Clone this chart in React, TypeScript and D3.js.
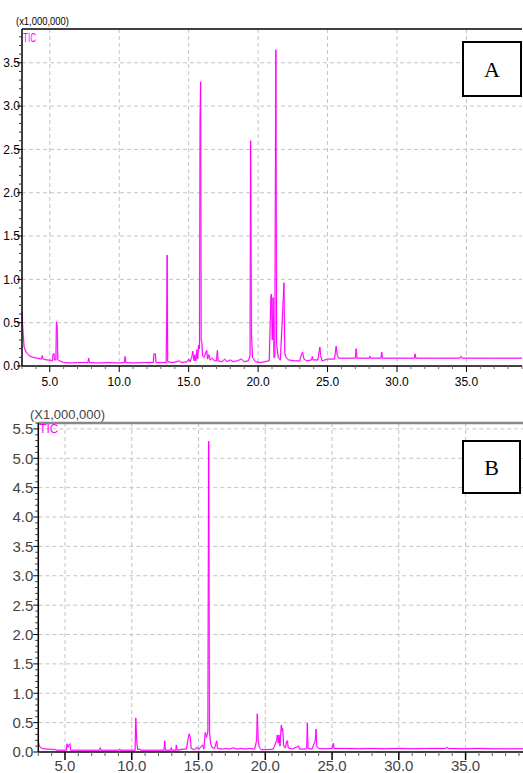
import React from 'react';
import * as d3 from 'd3';

// TIC chromatogram A: [retention time (min), intensity (x1,000,000)]
const ticA: [number, number][] = [
  [3.0, 0.62], [3.05, 0.45], [3.15, 0.22], [3.3, 0.16], [3.5, 0.12], [3.8, 0.1], [4.1, 0.09], [4.4, 0.08],
  [4.46, 0.12], [4.52, 0.08], [4.8, 0.07], [5.1, 0.065], [5.2, 0.06], [5.24, 0.14], [5.3, 0.14], [5.34, 0.07],
  [5.44, 0.07], [5.48, 0.51], [5.53, 0.46], [5.58, 0.07], [5.7, 0.06], [6.0, 0.04], [6.5, 0.035], [7.0, 0.04],
  [7.5, 0.04], [7.75, 0.04], [7.8, 0.09], [7.85, 0.04], [8.5, 0.035], [9.2, 0.04], [10.0, 0.035], [10.38, 0.04],
  [10.42, 0.11], [10.47, 0.04], [11.0, 0.035], [11.8, 0.04], [12.45, 0.04], [12.5, 0.14], [12.6, 0.14], [12.65, 0.04],
  [13.0, 0.04], [13.38, 0.04], [13.42, 0.54], [13.45, 1.28], [13.49, 0.05], [13.8, 0.04], [14.2, 0.05], [14.3, 0.06],
  [14.5, 0.04], [14.9, 0.05], [15.0, 0.08], [15.1, 0.05], [15.22, 0.1], [15.3, 0.17], [15.38, 0.06], [15.46, 0.13],
  [15.52, 0.06], [15.6, 0.19], [15.65, 0.08], [15.72, 0.24], [15.78, 0.2], [15.82, 2.82], [15.86, 3.28], [15.9, 0.3],
  [15.95, 0.27], [16.0, 0.12], [16.1, 0.1], [16.3, 0.18], [16.36, 0.08], [16.45, 0.13], [16.55, 0.07], [16.7, 0.09],
  [16.85, 0.06], [17.0, 0.06], [17.07, 0.18], [17.12, 0.06], [17.4, 0.05], [17.6, 0.08], [17.75, 0.05], [18.0, 0.07],
  [18.2, 0.05], [18.5, 0.06], [18.8, 0.08], [19.0, 0.05], [19.3, 0.06], [19.42, 0.12], [19.46, 2.6], [19.52, 0.37],
  [19.6, 0.1], [19.8, 0.05], [20.2, 0.04], [20.5, 0.05], [20.8, 0.06], [20.92, 0.8], [20.96, 0.83], [21.02, 0.3],
  [21.08, 0.79], [21.14, 0.1], [21.2, 0.1], [21.28, 3.65], [21.33, 0.25], [21.45, 0.1], [21.6, 0.07], [21.82, 0.8],
  [21.86, 0.96], [21.92, 0.15], [22.0, 0.1], [22.2, 0.07], [22.6, 0.06], [23.0, 0.06], [23.1, 0.12], [23.2, 0.16],
  [23.3, 0.08], [23.5, 0.06], [23.85, 0.07], [23.9, 0.11], [23.95, 0.07], [24.3, 0.07], [24.45, 0.22], [24.5, 0.12],
  [24.6, 0.06], [25.0, 0.08], [25.5, 0.08], [25.62, 0.23], [25.7, 0.12], [25.8, 0.09], [26.5, 0.09], [27.0, 0.09],
  [27.06, 0.2], [27.12, 0.09], [28.0, 0.09], [28.05, 0.11], [28.1, 0.09], [28.85, 0.09], [28.9, 0.16], [28.96, 0.09],
  [30.0, 0.09], [31.25, 0.09], [31.3, 0.14], [31.36, 0.09], [33.0, 0.09], [34.5, 0.09], [34.6, 0.11], [34.7, 0.09],
  [37.0, 0.09], [39.0, 0.09],
];

// TIC chromatogram B
const ticB: [number, number][] = [
  [3.0, 0.18], [3.05, 0.12], [3.15, 0.08], [3.3, 0.06], [3.6, 0.05], [4.0, 0.045], [4.3, 0.04], [4.4, 0.03],
  [5.1, 0.03], [5.15, 0.14], [5.22, 0.08], [5.3, 0.12], [5.37, 0.14], [5.42, 0.03], [6.0, 0.03], [7.0, 0.03],
  [7.6, 0.03], [7.64, 0.07], [7.7, 0.03], [8.5, 0.03], [9.05, 0.03], [9.1, 0.05], [9.15, 0.03], [10.25, 0.03],
  [10.3, 0.58], [10.38, 0.15], [10.45, 0.04], [10.6, 0.05], [10.65, 0.03], [11.5, 0.03], [12.42, 0.03], [12.47, 0.19],
  [12.52, 0.03], [12.9, 0.03], [12.96, 0.07], [13.0, 0.03], [13.3, 0.03], [13.34, 0.12], [13.38, 0.03], [13.9, 0.05],
  [14.1, 0.05], [14.2, 0.2], [14.3, 0.31], [14.38, 0.25], [14.45, 0.06], [14.7, 0.04], [14.9, 0.08], [15.0, 0.04],
  [15.3, 0.12], [15.4, 0.05], [15.5, 0.33], [15.6, 0.25], [15.7, 0.35], [15.76, 5.29], [15.82, 0.35], [15.9, 0.15],
  [16.0, 0.08], [16.2, 0.06], [16.36, 0.19], [16.42, 0.06], [16.8, 0.05], [17.0, 0.06], [17.3, 0.05], [17.6, 0.07],
  [17.9, 0.05], [18.2, 0.06], [18.5, 0.05], [18.8, 0.06], [19.2, 0.05], [19.35, 0.2], [19.4, 0.65], [19.47, 0.2],
  [19.55, 0.08], [19.7, 0.04], [20.2, 0.04], [20.6, 0.05], [20.85, 0.2], [20.9, 0.29], [20.97, 0.15], [21.03, 0.29],
  [21.1, 0.1], [21.2, 0.46], [21.26, 0.35], [21.3, 0.4], [21.38, 0.1], [21.5, 0.07], [21.6, 0.18], [21.65, 0.19],
  [21.72, 0.07], [22.0, 0.05], [22.5, 0.1], [22.55, 0.05], [23.0, 0.05], [23.1, 0.06], [23.15, 0.49], [23.2, 0.06],
  [23.5, 0.05], [23.75, 0.2], [23.8, 0.39], [23.85, 0.1], [24.0, 0.06], [24.5, 0.055], [25.0, 0.06], [25.1, 0.15],
  [25.15, 0.06], [26.0, 0.06], [27.0, 0.055], [28.0, 0.06], [29.0, 0.055], [30.0, 0.06], [31.0, 0.055], [32.0, 0.06],
  [33.5, 0.06], [33.6, 0.08], [33.7, 0.06], [35.0, 0.055], [36.0, 0.06], [37.0, 0.055], [38.0, 0.055], [39.3, 0.055],
];

const xLabels = [5, 10, 15, 20, 25, 30, 35];
const yLabelsA = [0, 0.5, 1.0, 1.5, 2.0, 2.5, 3.0, 3.5];
const yLabelsB = [0, 0.5, 1.0, 1.5, 2.0, 2.5, 3.0, 3.5, 4.0, 4.5, 5.0, 5.5];

const MAGENTA = '#ff00ff';

type PanelProps = {
  data: [number, number][];
  xDomain: [number, number];
  yMax: number;
  left: number; right: number; top: number; bottom: number;
  yLabels: number[];
  letter: string;
  box: { x: number; y: number; w: number; h: number };
  variant: 'A' | 'B';
};

function Panel({ data, xDomain, yMax, left, right, top, bottom, yLabels, letter, box, variant }: PanelProps) {
  const x = d3.scaleLinear().domain(xDomain).range([left, right]);
  const y = d3.scaleLinear().domain([0, yMax]).range([bottom, top]);
  const line = d3.line<[number, number]>().x(d => x(d[0])).y(d => y(d[1]));
  const path = line(data) || '';

  const isA = variant === 'A';
  const font = 'Liberation Sans, Arial, sans-serif';
  const labelColor = isA ? '#000' : '#444';
  const labelSize = isA ? 12 : 15;

  const minorX = d3.range(Math.ceil(xDomain[0]), xDomain[1] + 0.001, 1);
  const minorY = d3.range(0, yMax + 0.0001, 0.1);

  return (
    <g>
      {/* grid */}
      {xLabels.map(v => (
        <line key={'gx' + v} x1={x(v)} x2={x(v)} y1={top} y2={bottom}
          stroke="#c4c4c4" strokeDasharray="4,3" />
      ))}
      {yLabels.filter(v => v > 0 && y(v) > top + 2).map(v => (
        <line key={'gy' + v} x1={left} x2={right} y1={y(v)} y2={y(v)}
          stroke="#c4c4c4" strokeDasharray="4,3" />
      ))}

      {/* trace */}
      <path d={path} fill="none" stroke="#ff8cff" strokeWidth={1.8} strokeOpacity={0.5} />
      <path d={path} fill="none" stroke={MAGENTA} strokeWidth={1} />

      {/* axes */}
      <line x1={left} x2={right} y1={top} y2={top} stroke={isA ? '#000' : '#888'} strokeWidth={isA ? 1.5 : 2.5} />
      <line x1={left} x2={left} y1={top} y2={bottom} stroke="#000" strokeWidth={1.5} />
      <line x1={left} x2={right} y1={bottom} y2={bottom} stroke="#000" strokeWidth={1.5} />

      {minorY.map((v, i) => {
        const major = i % 5 === 0;
        return (
          <line key={'ty' + i} x1={left - (major ? 5 : 3)} x2={left} y1={y(v)} y2={y(v)}
            stroke={major ? '#000' : '#333'} strokeWidth={1} />
        );
      })}
      {minorX.map(v => {
        const major = v % 5 === 0;
        return (
          <line key={'tx' + v} x1={x(v)} x2={x(v)} y1={bottom} y2={bottom + (major ? (isA ? 6 : 8) : (isA ? 3 : 4))}
            stroke={major ? '#000' : '#666'} strokeWidth={major && !isA ? 1.5 : 1} />
        );
      })}

      {/* tick labels */}
      {yLabels.map(v => (
        <text key={'ly' + v} x={left - (isA ? 2 : 5)} y={y(v)} dy="0.36em" textAnchor="end"
          fontFamily={font} fontSize={labelSize} fill={labelColor}>{v.toFixed(1)}</text>
      ))}
      {xLabels.map(v => (
        <text key={'lx' + v} x={x(v)} y={isA ? bottom + 20 : bottom + 19} textAnchor="middle"
          fontFamily={font} fontSize={labelSize} fill={labelColor}>{v.toFixed(1)}</text>
      ))}

      {/* multiplier + trace name */}
      <text x={isA ? 16 : 30} y={top - 4} fontFamily={font} fontSize={isA ? 11 : 13} fill={labelColor}
        textLength={isA ? 53 : 75} lengthAdjust="spacingAndGlyphs">{isA ? '(x1,000,000)' : '(X1,000,000)'}</text>
      <text x={left + 1} y={top + (isA ? 13 : 10)} fontFamily={font} fontSize={isA ? 13 : 12} fill={MAGENTA}
        textLength={isA ? 13 : 19} lengthAdjust="spacingAndGlyphs">TIC</text>

      {/* panel letter */}
      <rect x={box.x} y={box.y} width={box.w} height={box.h} fill="#fff" stroke="#000" strokeWidth={2} />
      <text x={box.x + box.w / 2} y={box.y + box.h / 2 + 8} textAnchor="middle"
        fontFamily="Liberation Serif, Times New Roman, serif" fontSize={22} fill="#000">{letter}</text>
    </g>
  );
}

export default function App() {
  return (
    <svg width={523} height={773} style={{ position: 'absolute', left: 0, top: 0, background: '#fff' }}>
      <Panel data={ticA} xDomain={[3, 39]} yMax={3.89} left={22} right={522} top={29} bottom={366}
        yLabels={yLabelsA} letter="A" box={{ x: 463, y: 42, w: 58, h: 54 }} variant="A" />
      <Panel data={ticB} xDomain={[3, 39.3]} yMax={5.6} left={38.3} right={523} top={423} bottom={752}
        yLabels={yLabelsB} letter="B" box={{ x: 463, y: 441, w: 57, h: 52 }} variant="B" />
    </svg>
  );
}
